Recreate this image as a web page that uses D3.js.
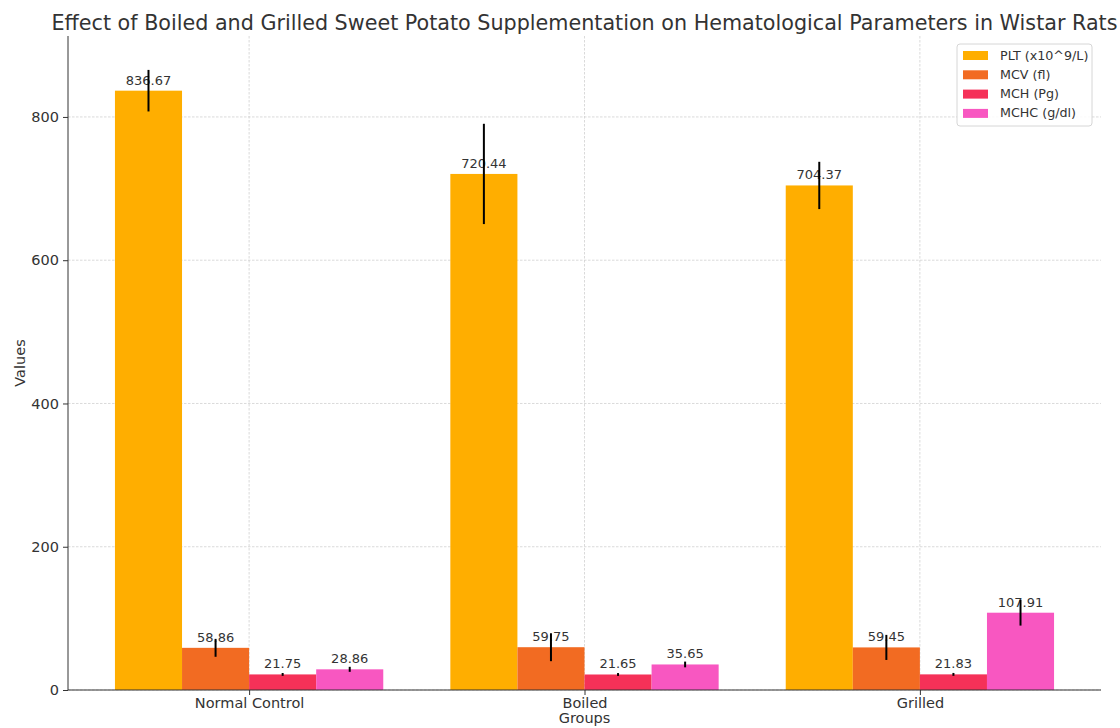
<!DOCTYPE html>
<html><head><meta charset="utf-8">
<script src="https://cdn.jsdelivr.net/npm/d3@7"></script>
<style>
body{margin:0;background:#fff;}
svg{font-family:"DejaVu Sans",sans-serif;}
</style></head>
<body>
<svg id="chart" width="1120" height="728"></svg>
<script>
const groups = ["Normal Control", "Boiled", "Grilled"];
const seriesNames = ["PLT (x10^9/L)", "MCV (fl)", "MCH (Pg)", "MCHC (g/dl)"];
const seriesColors = ["#FFAE00", "#F26B22", "#F53158", "#F857C1"];
const pltValues = [836.67, 720.44, 704.37];
const mcvValues = [58.86, 59.75, 59.45];
const mchValues = [21.75, 21.65, 21.83];
const mchcValues = [28.86, 35.65, 107.91];
const pltErr = [29, 70, 33];
const mcvErr = [12.5, 19.5, 17.5];
const mchErr = [2, 2, 2];
const mchcErr = [3.5, 4, 18];
const yTicks = [0, 200, 400, 600, 800];

const values = [pltValues, mcvValues, mchValues, mchcValues];
const errs = [pltErr, mcvErr, mchErr, mchcErr];

const svg = d3.select("#chart");
const L = 68, R = 1101, T = 36, B = 690;

const x = d3.scaleLinear().domain([-0.54, 2.54]).range([L, R]);
const y = d3.scaleLinear().domain([0, 913]).range([B, T]);
const bw = 0.2;

// grid
const g = svg.append("g");
g.selectAll(".gy").data(yTicks).enter().append("line")
  .attr("x1", L).attr("x2", R).attr("y1", d => y(d)).attr("y2", d => y(d))
  .attr("stroke", "#d0d0d0").attr("stroke-width", 0.8).attr("stroke-dasharray", "2.5,1.5");
g.selectAll(".gx").data(groups).enter().append("line")
  .attr("x1", (d, i) => x(i)).attr("x2", (d, i) => x(i)).attr("y1", T).attr("y2", B)
  .attr("stroke", "#d0d0d0").attr("stroke-width", 0.8).attr("stroke-dasharray", "2.5,1.5");

// bars
values.forEach((vals, s) => {
  const off = (s - 1.5) * bw;
  const sg = svg.append("g");
  sg.selectAll("rect").data(vals).enter().append("rect")
    .attr("x", (d, i) => x(i + off - bw / 2))
    .attr("width", x(bw) - x(0))
    .attr("y", d => y(d))
    .attr("height", d => y(0) - y(d))
    .attr("fill", seriesColors[s]);
});
// labels
values.forEach((vals, s) => {
  const off = (s - 1.5) * bw;
  svg.append("g").selectAll("text").data(vals).enter().append("text")
    .attr("x", (d, i) => x(i + off))
    .attr("y", d => y(d) - 6)
    .attr("text-anchor", "middle")
    .attr("font-size", 13)
    .attr("fill", "#333")
    .text(d => d.toFixed(2));
});
// error bars
values.forEach((vals, s) => {
  const off = (s - 1.5) * bw;
  svg.append("g").selectAll("line").data(vals).enter().append("line")
    .attr("x1", (d, i) => x(i + off)).attr("x2", (d, i) => x(i + off))
    .attr("y1", (d, i) => y(d - errs[s][i])).attr("y2", (d, i) => y(d + errs[s][i]))
    .attr("stroke", "#000").attr("stroke-width", 2);
});

// axes
const yAxis = d3.axisLeft(y).tickValues(yTicks).tickSize(5).tickPadding(4).tickFormat(d3.format("d"));
const ya = svg.append("g").attr("transform", `translate(${L},0)`).call(yAxis);
ya.select(".domain").attr("stroke", "#333").attr("d", `M0,${T}V${B}`);
ya.selectAll(".tick line").attr("stroke", "#333");
ya.selectAll(".tick text").attr("font-size", 14.5).attr("fill", "#333").attr("font-family", "DejaVu Sans");

const xAxis = d3.axisBottom(x).tickValues([0, 1, 2]).tickSize(5).tickPadding(3).tickFormat(i => groups[i]);
const xa = svg.append("g").attr("transform", `translate(0,${B})`).call(xAxis);
xa.select(".domain").attr("stroke", "#333").attr("d", `M${L},0H${R}`);
xa.selectAll(".tick line").attr("stroke", "#333");
xa.selectAll(".tick text").attr("font-size", 14.5).attr("fill", "#333").attr("font-family", "DejaVu Sans");

// axis titles
svg.append("text").attr("x", (L + R) / 2).attr("y", 723).attr("text-anchor", "middle")
  .attr("font-size", 14.5).attr("fill", "#333").text("Groups");
svg.append("text").attr("transform", `translate(25,${(T + B) / 2}) rotate(-90)`)
  .attr("text-anchor", "middle").attr("font-size", 14.5).attr("fill", "#333").text("Values");

// title
svg.append("text").attr("x", (L + R) / 2).attr("y", 30).attr("text-anchor", "middle")
  .attr("font-size", 20.7).attr("fill", "#333")
  .text("Effect of Boiled and Grilled Sweet Potato Supplementation on Hematological Parameters in Wistar Rats");

// legend
const lg = svg.append("g");
lg.append("rect").attr("x", 957).attr("y", 44).attr("width", 135).attr("height", 82).attr("rx", 3)
  .attr("fill", "#fff").attr("fill-opacity", 0.85).attr("stroke", "#d6d6d6");
seriesNames.forEach((n, i) => {
  const yy = 55 + i * 19.3;
  lg.append("rect").attr("x", 963).attr("y", yy - 4).attr("width", 25).attr("height", 9).attr("fill", seriesColors[i]);
  lg.append("text").attr("x", 1000).attr("y", yy + 4.5).attr("font-size", 12.7).attr("fill", "#333").text(n);
});
</script>
</body></html>
